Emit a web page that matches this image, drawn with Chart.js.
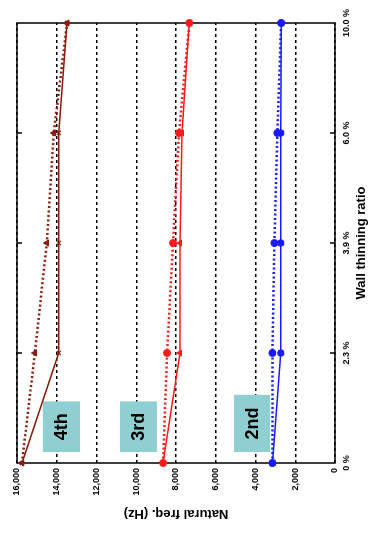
<!DOCTYPE html>
<html>
<head>
<meta charset="utf-8">
<script src="https://cdn.jsdelivr.net/npm/chart.js@4/dist/chart.umd.min.js"></script>
<style>
  html, body { margin: 0; padding: 0; background: #fff; }
  body { width: 371px; height: 554px; position: relative; overflow: hidden; }
  /* the source figure is printed turned a quarter turn to the left */
  #wrap {
    position: absolute; left: 0; top: 0;
    width: 554px; height: 371px;
    transform-origin: 0 0;
    transform: translate(0, 554px) rotate(-90deg);
  }
</style>
</head>
<body>
<div id="wrap"><canvas id="freqChart" width="554" height="371"></canvas></div>
<script>
const ratios = ['0 %', '2.3 %', '3.9 %', '6.0 %', '10.0 %'];

// natural frequency (Hz), two curves per mode
const mode4Dotted = [15750, 15100, 14500, 14150, 13480];
const mode4Solid  = [15750, 13900, 13900, 13900, 13480];
const mode3Dotted = [8650, 8450, 8150, 7850, 7330];
const mode3Solid  = [8650, 7800, 7800, 7700, 7330];
const mode2Dotted = [3150, 3150, 3050, 2900, 2710];
const mode2Solid  = [3150, 2730, 2730, 2730, 2710];

const modeNames = ['4th', '3rd', '2nd'];
const freqTicks = [0, 2000, 4000, 6000, 8000, 10000, 12000, 14000, 16000];

const brown = '#8b1a0a';
const red = '#ff1a1a';
const blue = '#1a1aff';

function dotted(data, color, style) {
  return {
    data: data, borderColor: color, backgroundColor: color,
    borderWidth: 2.5, borderDash: [2, 2.5],
    pointStyle: style, pointRadius: 3.5, pointBorderWidth: 1,
    tension: 0, fill: false
  };
}
function solid(data, color, style) {
  return {
    data: data, borderColor: color, backgroundColor: color,
    borderWidth: 1.5,
    pointStyle: style, pointRadius: 3, pointBorderWidth: 1.2,
    tension: 0, fill: false
  };
}

// frame, inward ticks and the teal mode tags
const framePlugin = {
  id: 'frame',
  beforeDatasetsDraw(chart) {
    const { ctx, chartArea: a, scales } = chart;
    ctx.save();
    ctx.setLineDash([]);
    ctx.strokeStyle = '#000';
    ctx.lineWidth = 1.5;
    ctx.strokeRect(a.left, a.top, a.right - a.left, a.bottom - a.top);
    for (let i = 1; i < ratios.length - 1; i++) {
      const px = scales.x.getPixelForValue(i);
      ctx.beginPath();
      ctx.moveTo(px, a.bottom); ctx.lineTo(px, a.bottom - 5);
      ctx.moveTo(px, a.top); ctx.lineTo(px, a.top + 5);
      ctx.stroke();
    }
    // tags: [name, freq top, freq bottom, x from, x to] in axis units
    const tags = [
      [modeNames[0], 14700, 12830, 0.1, 0.56],
      [modeNames[1], 10820, 8960, 0.1, 0.56],
      [modeNames[2], 5080, 3270, 0.1, 0.62]
    ];
    tags.forEach(t => {
      const x1 = scales.x.getPixelForValue(t[3]);
      const x2 = scales.x.getPixelForValue(t[4]);
      const y1 = scales.y.getPixelForValue(t[1]);
      const y2 = scales.y.getPixelForValue(t[2]);
      ctx.fillStyle = '#8fcfd1';
      ctx.fillRect(x1, y1, x2 - x1, y2 - y1);
      ctx.fillStyle = '#000';
      ctx.font = 'bold 18px "Liberation Sans", Arial, sans-serif';
      ctx.textAlign = 'center';
      ctx.textBaseline = 'middle';
      ctx.fillText(t[0], (x1 + x2) / 2, (y1 + y2) / 2 + 1);
    });
    ctx.restore();
  }
};

const tickFont = { family: '"Liberation Sans", Arial, sans-serif', size: 9, weight: 'bold' };
const titleFont = { family: '"Liberation Sans", Arial, sans-serif', size: 13, weight: 'bold' };

new Chart(document.getElementById('freqChart'), {
  type: 'line',
  data: {
    labels: ratios,
    datasets: [
      dotted(mode4Dotted, brown, 'triangle'),
      solid(mode4Solid, brown, 'crossRot'),
      dotted(mode3Dotted, red, 'circle'),
      solid(mode3Solid, red, 'triangle'),
      dotted(mode2Dotted, blue, 'circle'),
      solid(mode2Solid, blue, 'circle')
    ]
  },
  options: {
    responsive: false,
    animation: false,
    layout: { padding: { top: 17, right: 23, left: 29, bottom: 0 } },
    plugins: { legend: { display: false }, tooltip: { enabled: false } },
    scales: {
      x: {
        offset: false,
        grid: { display: false, drawTicks: false },
        border: { display: false },
        ticks: { color: '#000', font: tickFont, padding: 6, maxRotation: 0 },
        title: { display: true, text: 'Wall thinning ratio', color: '#000', font: titleFont, padding: { top: 0, bottom: 2 } },
        afterFit(scale) { scale.height = 36; }
      },
      y: {
        min: 0, max: 16000,
        afterBuildTicks(scale) { scale.ticks = freqTicks.map(v => ({ value: v })); },
        grid: { color: '#000', lineWidth: 1.5, drawTicks: false },
        border: { display: false, dash: [3, 3] },
        ticks: { color: '#000', font: tickFont, padding: 5 },
        title: { display: true, text: 'Natural freq. (Hz)', color: '#000', font: titleFont, padding: { top: 4, bottom: 0 } },
        afterFit(scale) { scale.width = 62; }
      }
    }
  },
  plugins: [framePlugin]
});
</script>
</body>
</html>
